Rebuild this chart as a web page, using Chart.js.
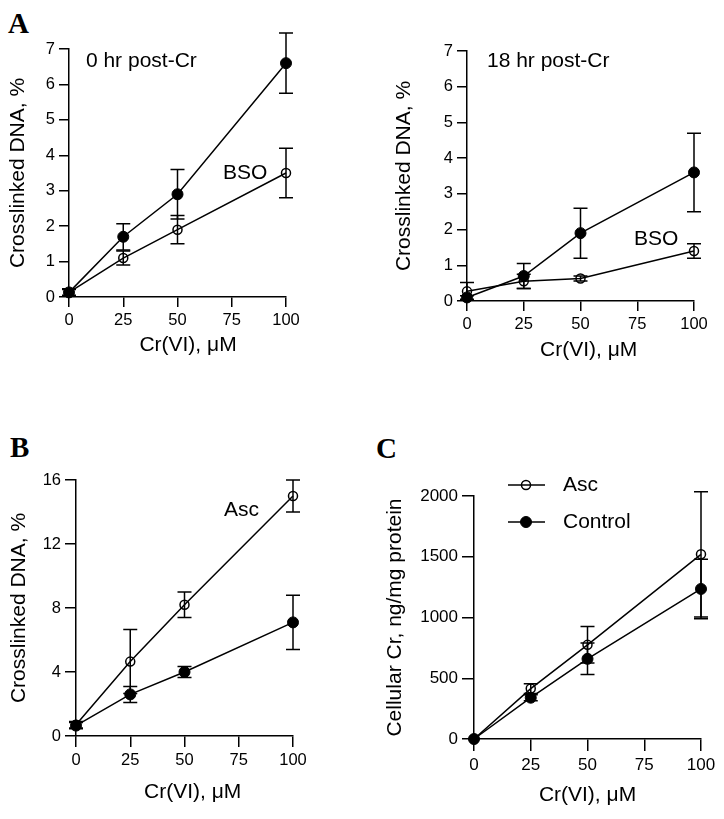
<!DOCTYPE html>
<html>
<head>
<meta charset="utf-8">
<script src="https://cdn.jsdelivr.net/npm/chart.js@4.4.1/dist/chart.umd.min.js"></script>
<style>
body { margin: 0; background: #fff; }
#page { position: relative; width: 724px; height: 819px; background: #fff; }
canvas { position: absolute; }
.panel {
    position: absolute;
    font-family: "Liberation Serif", "Times New Roman", serif;
    font-weight: bold;
    font-size: 29px;
    line-height: 29px;
}
</style>
</head>
<body>
<div id="page">
    <div class="panel" style="left:8px;top:9px">A</div>
    <div class="panel" style="left:10px;top:433px">B</div>
    <div class="panel" style="left:376px;top:434px">C</div>
    <canvas id="chartA0" width="362" height="375" style="left:0;top:0"></canvas>
    <canvas id="chartA18" width="362" height="375" style="left:362px;top:0"></canvas>
    <canvas id="chartB" width="362" height="444" style="left:0;top:375px"></canvas>
    <canvas id="chartC" width="362" height="444" style="left:362px;top:375px"></canvas>
</div>
<script>
// doses and tick labels
var doses = [0, 25, 50, 100];
var dose_ticks = [0, 25, 50, 75, 100];
var a_ticks = [0, 1, 2, 3, 4, 5, 6, 7];
var b_ticks = [0, 4, 8, 12, 16];
var c_ticks = [0, 500, 1000, 1500, 2000];

// A, 0 hr post-Cr
var a0_control = [0.13, 1.7, 2.9, 6.6];
var a0_control_err = [0.1, 0.37, 0.7, 0.85];
var a0_bso = [0.13, 1.1, 1.9, 3.5];
var a0_bso_err = [0.08, 0.2, 0.4, 0.7];

// A, 18 hr post-Cr
var a18_control = [0.1, 0.7, 1.9, 3.6];
var a18_control_err = [0.05, 0.35, 0.7, 1.1];
var a18_bso = [0.27, 0.55, 0.63, 1.4];
var a18_bso_err = [0.25, 0.2, 0.07, 0.2];

// B, crosslinks with ascorbate
var b_control = [0.65, 2.6, 4.0, 7.1];
var b_control_err = [0.2, 0.5, 0.35, 1.7];
var b_asc = [0.7, 4.65, 8.2, 15.0];
var b_asc_err = [0.2, 2.0, 0.8, 1.0];

// C, cellular Cr
var c_control = [0, 340, 660, 1235];
var c_control_err = [0, 25, 130, 245];
var c_asc = [0, 415, 775, 1520];
var c_asc_err = [0, 40, 150, 515];

Chart.defaults.font.family = '"Liberation Sans", Arial, Helvetica, sans-serif';
Chart.defaults.color = '#000';
Chart.defaults.animation = false;

var errorBars = {
    id: 'errorBars',
    afterDatasetsDraw: function (chart) {
        var ctx = chart.ctx;
        var yScale = chart.scales.y;
        ctx.save();
        ctx.strokeStyle = '#000';
        ctx.lineWidth = 1.5;
        chart.data.datasets.forEach(function (ds, i) {
            var meta = chart.getDatasetMeta(i);
            ds.errors.forEach(function (err, j) {
                if (!err) return;
                var x = meta.data[j].x;
                var v = ds.data[j].y;
                var top = yScale.getPixelForValue(v + err);
                var bottom = yScale.getPixelForValue(v - err);
                ctx.beginPath();
                ctx.moveTo(x, top);
                ctx.lineTo(x, bottom);
                ctx.moveTo(x - 7, top);
                ctx.lineTo(x + 7, top);
                ctx.moveTo(x - 7, bottom);
                ctx.lineTo(x + 7, bottom);
                ctx.stroke();
            });
        });
        ctx.restore();
    }
};

function notes_plugin(items) {
    return {
        id: 'notes',
        afterDraw: function (chart) {
            var ctx = chart.ctx;
            ctx.save();
            ctx.fillStyle = '#000';
            ctx.font = '21px "Liberation Sans", Arial, sans-serif';
            ctx.textAlign = 'left';
            ctx.textBaseline = 'middle';
            items.forEach(function (n) {
                ctx.fillText(n.text, chart.scales.x.getPixelForValue(n.x), chart.scales.y.getPixelForValue(n.y));
            });
            ctx.restore();
        }
    };
}

function line_set(label, values, errors, filled) {
    return {
        label: label,
        data: doses.map(function (d, i) { return { x: d, y: values[i] }; }),
        errors: errors,
        borderColor: '#000',
        borderWidth: 1.5,
        pointRadius: filled ? 5.5 : 4.5,
        pointBorderWidth: filled ? 1 : 1.5,
        pointBackgroundColor: filled ? '#000' : 'rgba(0,0,0,0)',
        pointBorderColor: '#000',
        fill: false,
        tension: 0,
        clip: false
    };
}

function make_chart(id, p) {
    var ctx = document.getElementById(id).getContext('2d');
    return new Chart(ctx, {
        type: 'line',
        data: { datasets: p.datasets },
        plugins: [errorBars].concat(p.plugins || []),
        options: {
            responsive: false,
            maintainAspectRatio: false,
            layout: { padding: { left: 0, top: p.top, right: p.right, bottom: 0 } },
            plugins: { legend: { display: false }, tooltip: { enabled: false } },
            scales: {
                x: {
                    type: 'linear',
                    min: 0,
                    max: 100,
                    afterBuildTicks: function (s) { s.ticks = dose_ticks.map(function (v) { return { value: v }; }); },
                    afterFit: function (s) { s.height = p.xHeight; },
                    border: { color: '#000', width: 1.5 },
                    grid: { drawOnChartArea: false, color: '#000', lineWidth: 1.5, tickLength: p.tick },
                    ticks: { font: { size: p.tickFont }, padding: 4, maxRotation: 0, autoSkip: false,
                             callback: function (v) { return String(v); } },
                    title: { display: true, text: p.xTitle, font: { size: 21 }, padding: { top: 0, bottom: p.xTitlePad } }
                },
                y: {
                    type: 'linear',
                    min: 0,
                    max: p.yTicks[p.yTicks.length - 1],
                    afterBuildTicks: function (s) { s.ticks = p.yTicks.map(function (v) { return { value: v }; }); },
                    afterFit: function (s) { s.width = p.yWidth; },
                    border: { color: '#000', width: 1.5 },
                    grid: { drawOnChartArea: false, color: '#000', lineWidth: 1.5, tickLength: p.tick },
                    ticks: { font: { size: p.tickFont }, padding: 4, autoSkip: false,
                             callback: function (v) { return String(v); } },
                    title: { display: true, text: p.yTitle, font: { size: 21 }, padding: { top: p.yTitlePad, bottom: 0 } }
                }
            }
        }
    });
}

//A, 0 hr
make_chart('chartA0', {
    datasets: [
        line_set('Control', a0_control, a0_control_err, true),
        line_set('BSO', a0_bso, a0_bso_err, false)
    ],
    yTicks: a_ticks,
    top: 49, right: 76, yWidth: 69, xHeight: 78, tick: 10, tickFont: 16.5,
    xTitle: '\u2003Cr(VI), \u03bcM', xTitlePad: 17.4,
    yTitle: 'Crosslinked DNA, %', yTitlePad: 5.4,
    plugins: [notes_plugin([
        { text: '0 hr post-Cr', x: 7.8, y: 6.66 },
        { text: 'BSO', x: 71, y: 3.49 }
    ])]
});

//A, 18 hr
make_chart('chartA18', {
    datasets: [
        line_set('Control', a18_control, a18_control_err, true),
        line_set('BSO', a18_bso, a18_bso_err, false)
    ],
    yTicks: a_ticks,
    top: 51, right: 30, yWidth: 105, xHeight: 74, tick: 10, tickFont: 16.5,
    xTitle: '\u2002 Cr(VI), \u03bcM', xTitlePad: 11.9,
    yTitle: 'Crosslinked DNA, %', yTitlePad: 29.9,
    plugins: [notes_plugin([
        { text: '18 hr post-Cr', x: 8.8, y: 6.72 },
        { text: 'BSO', x: 73.6, y: 1.72 }
    ])]
});

//B
make_chart('chartB', {
    datasets: [
        line_set('Control', b_control, b_control_err, true),
        line_set('Asc', b_asc, b_asc_err, false)
    ],
    yTicks: b_ticks,
    top: 105, right: 69, yWidth: 76, xHeight: 83, tick: 11, tickFont: 16.5,
    xTitle: '\u2002 Cr(VI), \u03bcM', xTitlePad: 13.9,
    yTitle: 'Crosslinked DNA, %', yTitlePad: 6.9,
    plugins: [notes_plugin([
        { text: 'Asc', x: 68.2, y: 14.1 }
    ])]
});

//C
var legendC = {
    id: 'legendC',
    afterDraw: function (chart) {
        var ctx = chart.ctx;
        var area = chart.chartArea;
        var rows = [chart.data.datasets[1], chart.data.datasets[0]];
        ctx.save();
        ctx.font = '21px "Liberation Sans", Arial, sans-serif';
        ctx.textAlign = 'left';
        ctx.textBaseline = 'middle';
        rows.forEach(function (ds, i) {
            var y = area.top - 11 + i * 37;
            ctx.strokeStyle = '#000';
            ctx.lineWidth = 1.5;
            ctx.beginPath();
            ctx.moveTo(area.left + 34, y);
            ctx.lineTo(area.left + 71, y);
            ctx.stroke();
            ctx.beginPath();
            ctx.arc(area.left + 52, y, ds.pointRadius, 0, Math.PI * 2);
            ctx.fillStyle = ds.pointBackgroundColor;
            ctx.fill();
            ctx.lineWidth = ds.pointBorderWidth;
            ctx.stroke();
            ctx.fillStyle = '#000';
            ctx.fillText(ds.label, area.left + 89, y);
        });
        ctx.restore();
    }
};

make_chart('chartC', {
    datasets: [
        line_set('Control', c_control, c_control_err, true),
        line_set('Asc', c_asc, c_asc_err, false)
    ],
    yTicks: c_ticks,
    top: 121, right: 23, yWidth: 112, xHeight: 80, tick: 12, tickFont: 17,
    xTitle: 'Cr(VI), \u03bcM', xTitlePad: 10.9,
    yTitle: 'Cellular Cr, ng/mg protein', yTitlePad: 20.4,
    plugins: [legendC]
});
</script>
</body>
</html>
